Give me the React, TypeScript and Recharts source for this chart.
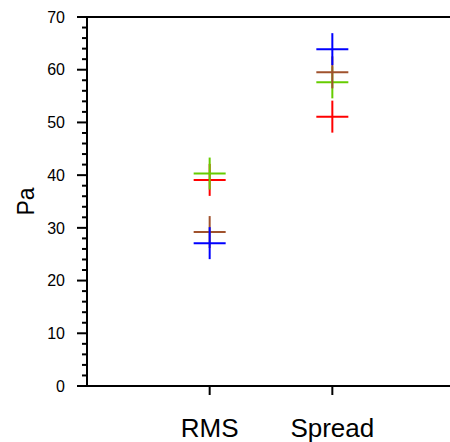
// Error stats (RMS / Spread) drawn as plus markers, NCL-style box with outward ticks.
import { ScatterChart, Scatter, XAxis, YAxis } from "recharts";

const categories = ["RMS", "Spread"];
const catPos = [1, 2];
const redVals = [39.1, 51.1];
const greenVals = [40.3, 57.6];
const brownVals = [29.2, 59.5];
const blueVals = [27.1, 63.9];
const yTicks = [0, 2, 4, 6, 8, 10, 12, 14, 16, 18, 20, 22, 24, 26, 28, 30, 32, 34, 36, 38, 40, 42, 44, 46, 48, 50, 52, 54, 56, 58, 60, 62, 64, 66, 68, 70];

const FONT = "'Liberation Sans', Arial, Helvetica, sans-serif";

const toPoints = (vals: number[]) => vals.map((v, i) => ({ x: catPos[i], y: v }));

function plusShape(color: string) {
  return (props: any) => {
    const { cx, cy } = props;
    return (
      <g>
        <line x1={cx - 16} x2={cx + 16} y1={cy} y2={cy} stroke={color} strokeWidth={2} />
        <line x1={cx} x2={cx} y1={cy - 16} y2={cy + 16} stroke={color} strokeWidth={2} />
      </g>
    );
  };
}

function YTick({ x = 0, y = 0, payload }: any) {
  const v = payload?.value as number;
  const major = v % 10 === 0;
  return (
    <g>
      <line x1={x - (major ? 10 : 5)} x2={x} y1={y} y2={y} stroke="#000" strokeWidth={2} />
      {major && (
        <text x={x - 22} y={y} dy="0.36em" textAnchor="end" fontSize={16} fontFamily={FONT} fill="#000">
          {v}
        </text>
      )}
    </g>
  );
}

function BottomTick({ x = 0, y = 0, payload }: any) {
  const idx = catPos.indexOf(payload?.value);
  return (
    <g>
      <line x1={x} x2={x} y1={y} y2={y + 9} stroke="#000" strokeWidth={2} />
      <text x={x} y={y + 51} textAnchor="middle" fontSize={26} fontFamily={FONT} fill="#000">
        {categories[idx]}
      </text>
    </g>
  );
}

function TopTick({ x = 0, y = 0 }: any) {
  return <line x1={x} x2={x} y1={y} y2={y - 9} stroke="#000" strokeWidth={2} />;
}

function PaLabel({ viewBox }: any) {
  const cx = 26;
  const cy = viewBox.y + viewBox.height / 2;
  return (
    <text
      x={cx}
      y={cy}
      dy="0.36em"
      textAnchor="middle"
      fontSize={23}
      fontFamily={FONT}
      fill="#000"
      transform={`rotate(-90 ${cx} ${cy})`}
    >
      Pa
    </text>
  );
}

export default function App() {
  return (
    <div style={{ position: "absolute", left: 0, top: 0, width: 450, height: 442, overflow: "hidden", background: "#fff" }}>
      <ScatterChart width={460} height={442} margin={{ top: 0, right: 5, bottom: 0, left: 0 }}>
        <XAxis
          xAxisId="bottom"
          type="number"
          dataKey="x"
          domain={[0, 3]}
          ticks={catPos}
          orientation="bottom"
          height={56}
          axisLine={{ stroke: "#000", strokeWidth: 2 }}
          tickLine={false}
          tickSize={0}
          tickMargin={0}
          tick={<BottomTick />}
          allowDataOverflow
        />
        <XAxis
          xAxisId="top"
          type="number"
          dataKey="x"
          domain={[0, 3]}
          ticks={catPos}
          orientation="top"
          height={17}
          axisLine={{ stroke: "#000", strokeWidth: 2 }}
          tickLine={false}
          tickSize={0}
          tickMargin={0}
          tick={<TopTick />}
        />
        <YAxis
          type="number"
          dataKey="y"
          domain={[0, 70]}
          ticks={yTicks}
          interval={0}
          width={87}
          axisLine={{ stroke: "#000", strokeWidth: 2 }}
          tickLine={false}
          tickSize={0}
          tickMargin={0}
          tick={<YTick />}
          label={<PaLabel />}
        />
        <Scatter xAxisId="bottom" data={toPoints(redVals)} shape={plusShape("#ff0000")} isAnimationActive={false} />
        <Scatter xAxisId="bottom" data={toPoints(greenVals)} shape={plusShape("#66cc00")} isAnimationActive={false} />
        <Scatter xAxisId="bottom" data={toPoints(brownVals)} shape={plusShape("#a0522d")} isAnimationActive={false} />
        <Scatter xAxisId="bottom" data={toPoints(blueVals)} shape={plusShape("#0000ff")} isAnimationActive={false} />
      </ScatterChart>
    </div>
  );
}
